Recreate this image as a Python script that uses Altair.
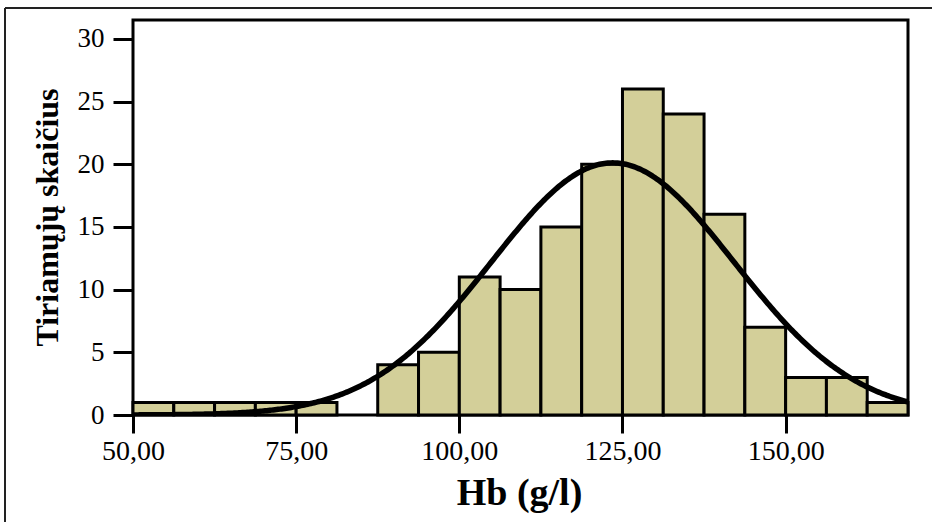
import altair as alt
import pandas as pd

# Histogram bins (Hb, g/l), width 6.25 starting at 50
bin_starts = [50.0, 56.25, 62.5, 68.75, 75.0, 81.25, 87.5, 93.75, 100.0, 106.25,
              112.5, 118.75, 125.0, 131.25, 137.5, 143.75, 150.0, 156.25, 162.5]
bin_width = 6.25
counts = [1, 1, 1, 1, 1, 0, 4, 5, 11, 10, 15, 20, 26, 24, 16, 7, 3, 3, 1]

# Fitted normal curve parameters
fit_mean = 123.5
fit_sd = 18.6
n_total = 150

y_ticks = [0, 5, 10, 15, 20, 25, 30]
x_ticks = [50, 75, 100, 125, 150]

bars = pd.DataFrame({
    "start": bin_starts,
    "end": [s + bin_width for s in bin_starts],
    "count": counts,
})
bars = bars[bars["count"] > 0]

FONT = "Liberation Serif"
XDOM = [50, 168.75]
YDOM = [0, 31.5]

xscale = alt.Scale(domain=XDOM, nice=False, zero=False)
yscale = alt.Scale(domain=YDOM, nice=False)

hist = alt.Chart(bars).mark_rect(
    color="#D3CF99", stroke="black", strokeWidth=3
).encode(
    x=alt.X("start:Q", scale=xscale,
            axis=alt.Axis(values=x_ticks, title="Hb (g/l)",
                          labelExpr="replace(format(datum.value, '.2f'), '.', ',')",
                          tickSize=18, tickWidth=3, tickColor="black",
                          domain=False, grid=False, labelPadding=4,
                          labelFont=FONT, labelFontSize=28, labelColor="black",
                          labelFlush=False,
                          titleFont=FONT, titleFontSize=38, titleFontWeight="bold",
                          titleColor="black", titleX=386, titleY=89,
                          titleAlign="center", titleBaseline="alphabetic")),
    x2="end:Q",
    y=alt.Y("count:Q", scale=yscale,
            axis=alt.Axis(values=y_ticks, title="Tiriamųjų skaičius",
                          tickSize=20, tickWidth=3, tickColor="black",
                          domain=False, grid=False, labelPadding=9,
                          labelFont=FONT, labelFontSize=27, labelColor="black",
                          labelFlush=False,
                          titleFont=FONT, titleFontSize=32, titleFontWeight="bold",
                          titleColor="black", titleX=-86, titleY=197,
                          titleAngle=270, titleAlign="center", titleBaseline="middle")),
    y2=alt.datum(0),
)

curve = alt.Chart(alt.sequence(50, 168.76, 0.25, as_="hb")).transform_calculate(
    dens=f"{n_total}*{bin_width}*densityNormal(datum.hb, {fit_mean}, {fit_sd})"
).mark_line(color="black", strokeWidth=5.5, clip=True).encode(
    x=alt.X("hb:Q", scale=xscale),
    y=alt.Y("dens:Q", scale=yscale),
)

# outer decorative frame (partially cropped like the reference)
frame_top = alt.Chart(pd.DataFrame({"a": [0]})).mark_rule(
    color="#222", strokeWidth=2
).encode(x=alt.value(-128), x2=alt.value(830), y=alt.value(-12))
frame_left = alt.Chart(pd.DataFrame({"a": [0]})).mark_rule(
    color="#222", strokeWidth=2
).encode(x=alt.value(-128), y=alt.value(-12), y2=alt.value(520))

chart = alt.layer(hist, curve, frame_top, frame_left).properties(
    width=775, height=395,
    padding={"left": 133, "top": 20, "right": 24, "bottom": 107},
    autosize=alt.AutoSizeParams(type="none"),
    background="white",
).configure_view(stroke="black", strokeWidth=3)

chart.save("out.html", embed_options={"renderer": "svg", "actions": False})
